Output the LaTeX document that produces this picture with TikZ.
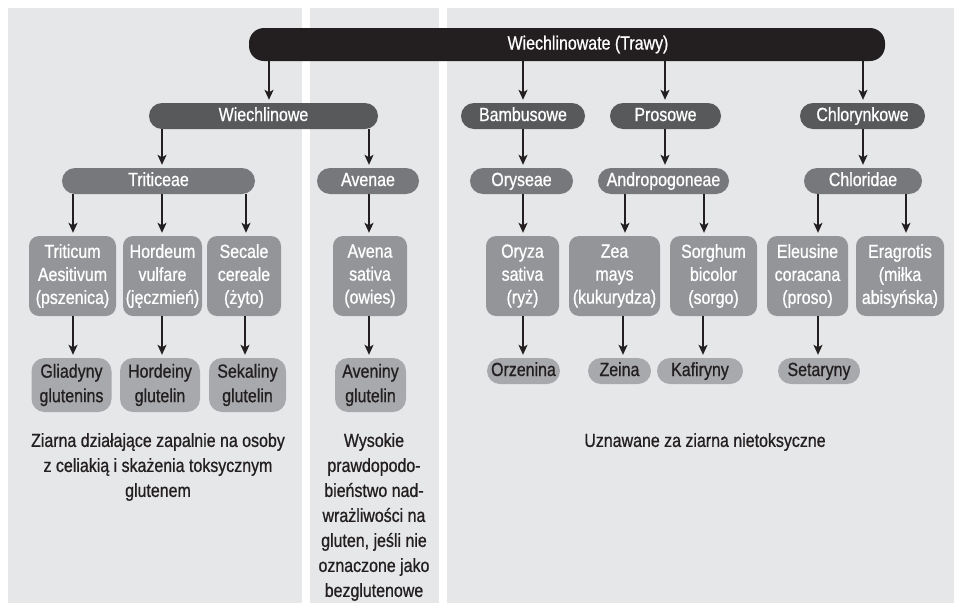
\documentclass[tikz,border=0pt]{standalone}
\usepackage{fontspec}
\setmainfont{Liberation Sans}[FakeStretch=0.84,FakeBold=0.8]
\usetikzlibrary{arrows.meta}
\definecolor{panelbg}{HTML}{E6E7E8}
\definecolor{rootc}{HTML}{231F20}
\definecolor{lvlone}{HTML}{58595B}
\definecolor{lvltwo}{HTML}{77787B}
\definecolor{leafc}{HTML}{939598}
\definecolor{protc}{HTML}{A7A9AC}
\definecolor{inkc}{HTML}{231F20}
\newcommand\conn[3]{\draw[arr] (#1.south -| #3) -- (#2.north -| #3);}
\begin{document}
\begin{tikzpicture}[x=1pt,y=-1pt,
 base/.style={inner sep=0pt, align=center, font=\fontsize{19}{23}\selectfont},
 onel/.style={text height=14pt, text depth=4pt},
 rootbox/.style={base, onel, fill=rootc, text=white, rounded corners=15pt, minimum height=33pt},
 onebox/.style={base, onel, fill=lvlone, text=white, rounded corners=13pt, minimum height=26pt},
 twobox/.style={base, onel, fill=lvltwo, text=white, rounded corners=13pt, minimum height=26pt},
 leafbox/.style={base, fill=leafc, text=white, rounded corners=10pt, minimum height=80pt},
 protbox/.style={base, fill=protc, text=inkc, rounded corners=13pt, minimum height=54pt, font=\fontsize{19}{24.5}\selectfont},
 protpill/.style={base, onel, fill=protc, text=inkc, rounded corners=13pt, minimum height=26pt},
 note/.style={align=center, inner sep=0pt, text=inkc, font=\fontsize{19}{25}\selectfont},
 arr/.style={draw=inkc, line width=1.3pt, -{Stealth[length=10pt,width=9pt,inset=2.5pt]}, shorten >=3pt}
]
\fill[white] (0,0) rectangle (954,603);
\useasboundingbox (0,0) rectangle (954,603);
\fill[panelbg] (8,8) rectangle (302,603);
\fill[panelbg] (310,8) rectangle (439,603);
\fill[panelbg] (447,8) rectangle (954,603);

% root
\node[rootbox, minimum width=636pt] (root) at (567,44.5) {\hspace*{42pt}Wiechlinowate (Trawy)};

% level 1
\node[onebox, minimum width=229pt] (wiech) at (263.5,116) {Wiechlinowe};
\node[onebox, minimum width=124pt] (bamb) at (523,116) {Bambusowe};
\node[onebox, minimum width=111pt] (pros) at (665.5,116) {Prosowe};
\node[onebox, minimum width=125pt] (chlor) at (862.5,116) {Chlorynkowe};

% level 2
\node[twobox, minimum width=193pt] (trit) at (158.5,181) {Triticeae};
\node[twobox, minimum width=102pt] (aven) at (368,181) {Avenae};
\node[twobox, minimum width=103pt] (orys) at (521.5,181) {Oryseae};
\node[twobox, minimum width=131pt] (andro) at (663.5,181) {Andropogoneae};
\node[twobox, minimum width=118pt] (chlorid) at (863,181) {Chloridae};

% species
\node[leafbox, minimum width=87pt] (triticum) at (72.5,276) {Triticum\\Aesitivum\\(pszenica)};
\node[leafbox, minimum width=79pt] (hordeum) at (162.5,276) {Hordeum\\vulfare\\(jęczmień)};
\node[leafbox, minimum width=74pt] (secale) at (244,276) {Secale\\cereale\\(żyto)};
\node[leafbox, minimum width=74pt] (avena) at (370,276) {Avena\\sativa\\(owies)};
\node[leafbox, minimum width=73pt] (oryza) at (522.5,276) {Oryza\\sativa\\(ryż)};
\node[leafbox, minimum width=91pt] (zea) at (614.5,276) {Zea\\mays\\(kukurydza)};
\node[leafbox, minimum width=87pt] (sorghum) at (713.5,276) {Sorghum\\bicolor\\(sorgo)};
\node[leafbox, minimum width=81pt] (eleusine) at (807.5,276) {Eleusine\\coracana\\(proso)};
\node[leafbox, minimum width=88pt] (eragrotis) at (900,276) {Eragrotis\\(miłka\\abisyńska)};

% proteins
\node[protbox, minimum width=80pt] (glia) at (71.5,385) {Gliadyny\\glutenins};
\node[protbox, minimum width=80pt] (hordeiny) at (160,385) {Hordeiny\\glutelin};
\node[protbox, minimum width=77pt] (sekaliny) at (247.5,385) {Sekaliny\\glutelin};
\node[protbox, minimum width=71pt] (aveniny) at (370.5,385) {Aveniny\\glutelin};
\node[protpill, minimum width=73pt] (orzenina) at (523.5,371) {Orzenina};
\node[protpill, minimum width=63pt] (zeina) at (619.5,371) {Zeina};
\node[protpill, minimum width=86pt] (kafiryny) at (700,371) {Kafiryny};
\node[protpill, minimum width=82pt] (setaryny) at (819,371) {Setaryny};

% notes
\node[note] (noteL) at (158,467) {Ziarna działające zapalnie na osoby\\z celiakią i skażenia toksycznym\\glutenem};
\node[note] (noteM) at (374,517) {Wysokie\\prawdopodo-\\bieństwo nad-\\wrażliwości na\\gluten, jeśli nie\\oznaczone jako\\bezglutenowe};
\node[note] (noteR) at (705,442) {Uznawane za ziarna nietoksyczne};

% connector columns
\coordinate (kA) at (269,0);
\coordinate (kB) at (523,0);
\coordinate (kC) at (665,0);
\coordinate (kD) at (863,0);
\coordinate (kE) at (162,0);
\coordinate (kF) at (369,0);
\coordinate (kG) at (73,0);
\coordinate (kH) at (246,0);
\coordinate (kI) at (625,0);
\coordinate (kJ) at (704,0);
\coordinate (kK) at (818,0);
\coordinate (kL) at (906,0);
\coordinate (kN) at (245,0);
\coordinate (kP) at (623,0);
\coordinate (kQ) at (703,0);

\conn{root}{wiech}{kA}
\conn{root}{bamb}{kB}
\conn{root}{pros}{kC}
\conn{root}{chlor}{kD}
\conn{wiech}{trit}{kE}
\conn{wiech}{aven}{kF}
\conn{bamb}{orys}{kB}
\conn{pros}{andro}{kC}
\conn{chlor}{chlorid}{kD}
\conn{trit}{triticum}{kG}
\conn{trit}{hordeum}{kE}
\conn{trit}{secale}{kH}
\conn{aven}{avena}{kF}
\conn{orys}{oryza}{kB}
\conn{andro}{zea}{kI}
\conn{andro}{sorghum}{kJ}
\conn{chlorid}{eleusine}{kK}
\conn{chlorid}{eragrotis}{kL}
\conn{triticum}{glia}{kG}
\conn{hordeum}{hordeiny}{kE}
\conn{secale}{sekaliny}{kN}
\conn{avena}{aveniny}{kF}
\conn{oryza}{orzenina}{kB}
\conn{zea}{zeina}{kP}
\conn{sorghum}{kafiryny}{kQ}
\conn{eleusine}{setaryny}{kK}
\end{tikzpicture}
\end{document}
